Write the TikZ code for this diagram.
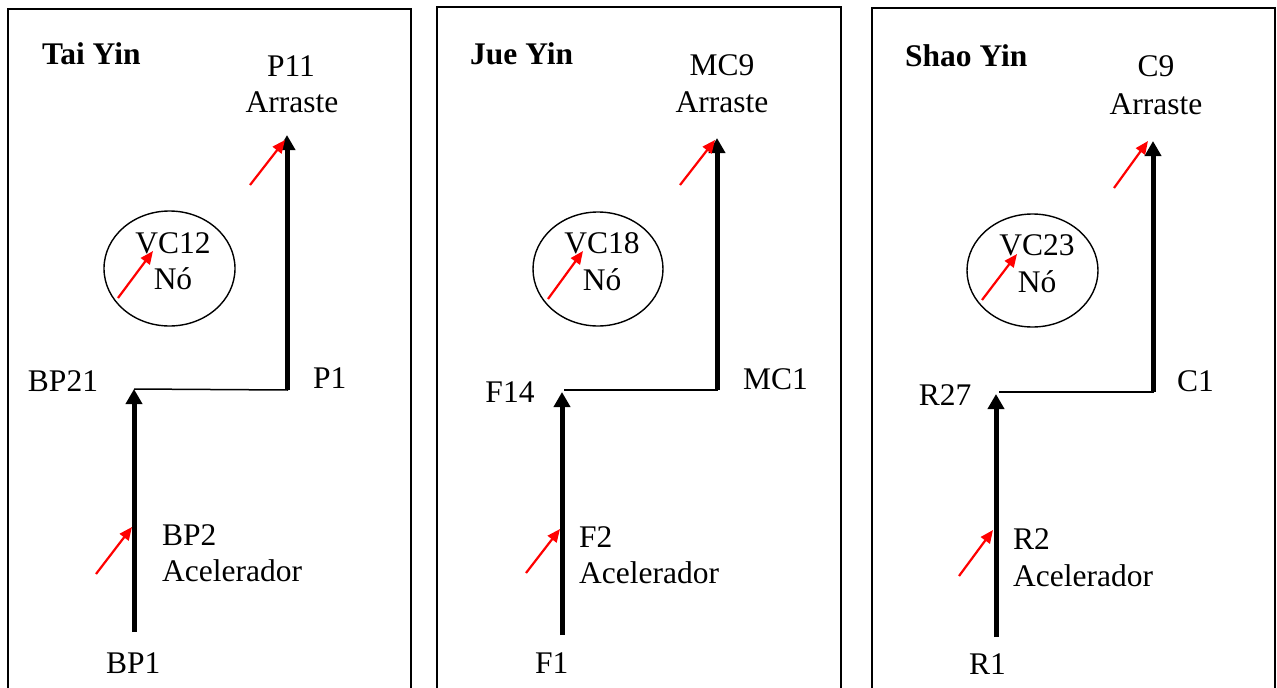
\documentclass[tikz,border=0pt]{standalone}
\usepackage{fontspec}
\setmainfont{Liberation Serif}
\usetikzlibrary{arrows.meta,shapes.geometric}

\begin{document}
\begin{tikzpicture}[
    x=1pt, y=-1pt,
    line join=miter,
    frame/.style={draw=black, line width=1.6pt},
    channel/.style={draw=black, line width=5pt, -{Triangle[length=15pt, width=16pt]}},
    link/.style={draw=black, line width=1.5pt},
    needle/.style={draw=red, line width=2.2pt, -{Triangle[length=13pt, width=11pt]}},
    point/.style={ellipse, draw=black, line width=1.4pt, inner sep=0pt},
    lab/.style={font=\fontsize{31.5}{36}\selectfont, inner sep=0pt},
    title/.style={font=\fontsize{31.5}{36}\selectfont\bfseries, inner sep=0pt}
]
\useasboundingbox (0,0) rectangle (1277,688);

\begin{scope}[shift={(0,0)}]
  \draw[frame] (8,688) -- (8,9) -- (411,9) -- (411,688);
  \node[title, anchor=base west] (tai) at (42,64) {Tai Yin};

  \coordinate (S) at (134,632);
  \coordinate (J) at (134,389);
  \coordinate (Jr) at (288,390);
  \coordinate (K) at (287,390);
  \coordinate (E) at (287,135);

  \draw[channel] (S) -- (J);
  \draw[link] (J) -- (Jr);
  \draw[channel] (K) -- (E);

  \node[point, minimum width=131pt, minimum height=115pt] (vc12) at (169.5,268.5) {};

  \node[lab, anchor=base] (p11) at (291,76) {P11};
  \node[lab, anchor=base] (p11t) at (292,112) {Arraste};
  \node[lab, anchor=base] (vc12l) at (173,253) {VC12};
  \node[lab, anchor=base] (vc12n) at (173,289) {Nó};
  \node[lab, anchor=base] (bp21) at (63,391) {BP21};
  \node[lab, anchor=base west] (p1) at (313,388) {P1};
  \node[lab, anchor=base west] (bp2) at (162,545) {BP2};
  \node[lab, anchor=base west] (bp2t) at (162,581) {Acelerador};
  \node[lab, anchor=base west] (bp1) at (106,673) {BP1};

  \coordinate (a1) at (250,185);
  \coordinate (b1) at (285,140);
  \coordinate (a2) at (118,298);
  \coordinate (b2) at (153,251);
  \coordinate (a3) at (96,574);
  \coordinate (b3) at (132,527);
  \draw[needle] (a1) -- (b1);
  \draw[needle] (a2) -- (b2);
  \draw[needle] (a3) -- (b3);
\end{scope}

\begin{scope}[shift={(429,0)}]
  \draw[frame] (8,688) -- (8,7) -- (412,7) -- (412,688);
  \node[title, anchor=base west] (jue) at (41,64) {Jue Yin};

  \coordinate (S) at (133,635);
  \coordinate (J) at (133,392);
  \coordinate (Jr) at (289,390);
  \coordinate (K) at (288,390);
  \coordinate (E) at (288,138);

  \draw[channel] (S) -- (J);
  \draw[link] ([xshift=2pt]J |- Jr) -- (Jr);
  \draw[channel] (K) -- (E);

  \node[point, minimum width=130pt, minimum height=114pt] (vc18) at (169,269) {};

  \node[lab, anchor=base] (mc9) at (293,75) {MC9};
  \node[lab, anchor=base] (mc9t) at (293,112) {Arraste};
  \node[lab, anchor=base] (vc18l) at (173,253) {VC18};
  \node[lab, anchor=base] (vc18n) at (173,290) {Nó};
  \node[lab, anchor=base] (f14) at (81,402) {F14};
  \node[lab, anchor=base west] (mc1) at (314,389) {MC1};
  \node[lab, anchor=base west] (f2) at (150,547) {F2};
  \node[lab, anchor=base west] (f2t) at (150,583) {Acelerador};
  \node[lab, anchor=base west] (f1) at (106,673) {F1};

  \coordinate (a1) at (251,185);
  \coordinate (b1) at (286,140);
  \coordinate (a2) at (119,299);
  \coordinate (b2) at (154,251);
  \coordinate (a3) at (97,573);
  \coordinate (b3) at (131,529);
  \draw[needle] (a1) -- (b1);
  \draw[needle] (a2) -- (b2);
  \draw[needle] (a3) -- (b3);
\end{scope}

\begin{scope}[shift={(864,0)}]
  \draw[frame] (8,688) -- (8,8) -- (411,8) -- (411,688);
  \node[title, anchor=base west] (shao) at (41,66) {Shao Yin};

  \coordinate (S) at (132,637);
  \coordinate (J) at (132,394);
  \coordinate (Jr) at (290,392);
  \coordinate (K) at (289,392);
  \coordinate (E) at (289,141);

  \draw[channel] (S) -- (J);
  \draw[link] ([xshift=3pt]J |- Jr) -- (Jr);
  \draw[channel] (K) -- (E);

  \node[point, minimum width=131pt, minimum height=113pt] (vc23) at (168.5,270.5) {};

  \node[lab, anchor=base] (c9) at (292,76) {C9};
  \node[lab, anchor=base] (c9t) at (292,114) {Arraste};
  \node[lab, anchor=base] (vc23l) at (173,255) {VC23};
  \node[lab, anchor=base] (vc23n) at (173,292) {Nó};
  \node[lab, anchor=base] (r27) at (81,405) {R27};
  \node[lab, anchor=base west] (c1) at (313,391) {C1};
  \node[lab, anchor=base west] (r2) at (149,549) {R2};
  \node[lab, anchor=base west] (r2t) at (149,586) {Acelerador};
  \node[lab, anchor=base west] (r1) at (105,674) {R1};

  \coordinate (a1) at (250,188);
  \coordinate (b1) at (284,141);
  \coordinate (a2) at (118,300);
  \coordinate (b2) at (153,254);
  \coordinate (a3) at (95,576);
  \coordinate (b3) at (129,530);
  \draw[needle] (a1) -- (b1);
  \draw[needle] (a2) -- (b2);
  \draw[needle] (a3) -- (b3);
\end{scope}

\end{tikzpicture}
\end{document}
